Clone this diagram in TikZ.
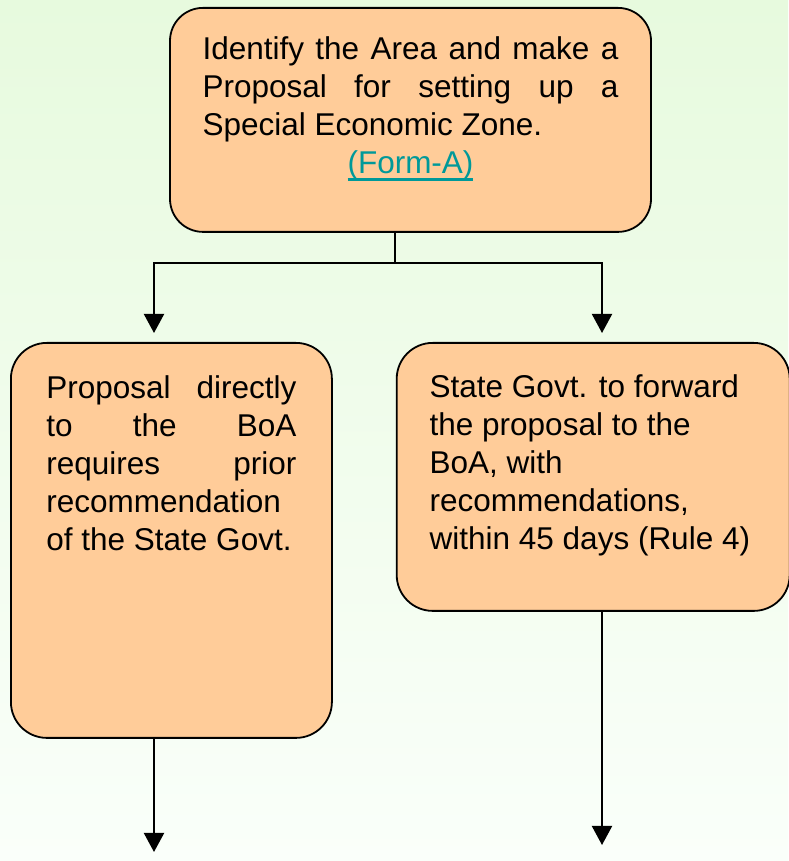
\documentclass[tikz,border=0pt]{standalone}
\usepackage{fontspec}
\setmainfont{Liberation Sans}
\usetikzlibrary{arrows.meta, positioning}
\definecolor{peach}{RGB}{255,204,153}
\definecolor{linkteal}{RGB}{0,153,153}
\definecolor{bgtop}{RGB}{231,250,222}
\definecolor{bgbottom}{RGB}{250,255,250}

\begin{document}
\begin{tikzpicture}[
    x=1pt, y=1pt,
    box/.style={draw, line width=1.8pt, fill=peach, rounded corners=36pt,
        font=\fontsize{31.5pt}{38pt}\selectfont},
    link/.style={line width=2pt},
    flow/.style={link, -{Triangle[width=20pt,length=19pt]}}
]

\shade[top color=bgtop, bottom color=bgbottom] (0,0) rectangle (788,861);
\useasboundingbox (0,0) rectangle (788,861);

\node[box, anchor=north, inner xsep=32.5pt, inner ysep=25.4pt, rounded corners=33pt] (area) at (410.5,854)
    {\parbox[t][173.2pt][t]{416pt}{\strut Identify the Area and make a\linebreak
     Proposal for setting up a\linebreak Special Economic Zone.\par
     \centering\leavevmode\color{linkteal}\setbox0=\hbox{(Form-A)}%
     \rlap{\vrule height -4.5pt depth 6.8pt width \wd0}\box0\par}};
\node[box, anchor=north west, inner xsep=35.5pt, inner ysep=29.4pt] (direct) at (10,519)
    {\parbox[t][336.2pt][t]{250pt}{\strut Proposal\hfill directly\\
     to\hfill the\hfill BoA\\ requires\hfill prior\\ recommendation\\
     of the State Govt.}};
\node[box, right=63pt of direct.north east, anchor=north west,
      inner xsep=33pt, inner ysep=28.4pt] (state)
    {\parbox[t][211.2pt][t]{327pt}{\raggedright\strut State Govt. to forward\\
     the proposal to the\\ BoA, with\\ recommendations,\\
     within 45 days (Rule 4)}};

\coordinate (fork) at (395,598);
\coordinate (directend) at (154,9);
\coordinate (stateend) at (602,16);

\draw[link] (fork |- area.south) -- (fork);
\draw[flow, shorten >=9pt] (fork) -| (directend |- direct.north);
\draw[flow, shorten >=9pt] (fork) -| (stateend |- state.north);
\draw[flow] (directend |- direct.south) -- (directend);
\draw[flow] (stateend |- state.south) -- (stateend);

\end{tikzpicture}
\end{document}
